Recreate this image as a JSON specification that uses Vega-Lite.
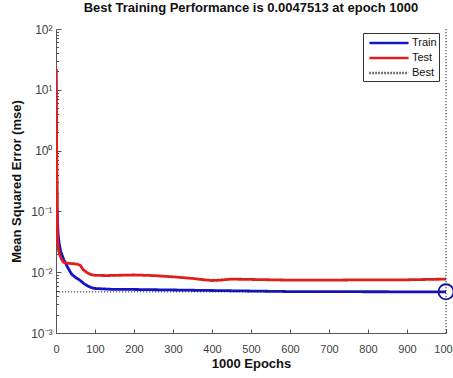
{
  "$schema": "https://vega.github.io/schema/vega-lite/v6.json",
  "width": 390,
  "height": 304,
  "autosize": {"type": "none"},
  "padding": {"left": 56, "top": 29, "right": 7, "bottom": 45},
  "background": "white",
  "config": {
    "view": {"stroke": null},
    "font": "Liberation Sans",
    "axis": {"grid": false, "domainColor": "#555555", "tickColor": "#555555", "labelColor": "#404040", "labelFont": "Liberation Sans", "labelFontSize": 11, "titleFont": "Liberation Sans", "titleFontWeight": "bold", "titleFontSize": 13, "titleColor": "#111111"}
  },
  "title": {"text": "Best Training Performance is 0.0047513 at epoch 1000", "font": "Liberation Sans", "fontSize": 13, "fontWeight": "bold", "color": "#111111", "offset": 8, "anchor": "middle"},
  "datasets": {
    "perf": [
      {"epoch": 0, "mse": 22, "series": "Train"},
      {"epoch": 1, "mse": 3, "series": "Train"},
      {"epoch": 2, "mse": 0.4, "series": "Train"},
      {"epoch": 3, "mse": 0.1, "series": "Train"},
      {"epoch": 5, "mse": 0.045, "series": "Train"},
      {"epoch": 8, "mse": 0.03, "series": "Train"},
      {"epoch": 12, "mse": 0.022, "series": "Train"},
      {"epoch": 20, "mse": 0.016, "series": "Train"},
      {"epoch": 30, "mse": 0.012, "series": "Train"},
      {"epoch": 40, "mse": 0.0093, "series": "Train"},
      {"epoch": 50, "mse": 0.0082, "series": "Train"},
      {"epoch": 60, "mse": 0.0075, "series": "Train"},
      {"epoch": 70, "mse": 0.0066, "series": "Train"},
      {"epoch": 80, "mse": 0.006, "series": "Train"},
      {"epoch": 90, "mse": 0.0056, "series": "Train"},
      {"epoch": 100, "mse": 0.0054, "series": "Train"},
      {"epoch": 150, "mse": 0.0052, "series": "Train"},
      {"epoch": 200, "mse": 0.0052, "series": "Train"},
      {"epoch": 300, "mse": 0.0051, "series": "Train"},
      {"epoch": 400, "mse": 0.005, "series": "Train"},
      {"epoch": 500, "mse": 0.0049, "series": "Train"},
      {"epoch": 600, "mse": 0.0048, "series": "Train"},
      {"epoch": 700, "mse": 0.0048, "series": "Train"},
      {"epoch": 800, "mse": 0.00477, "series": "Train"},
      {"epoch": 900, "mse": 0.00476, "series": "Train"},
      {"epoch": 1000, "mse": 0.0047513, "series": "Train"},
      {"epoch": 0, "mse": 22, "series": "Test"},
      {"epoch": 1, "mse": 5, "series": "Test"},
      {"epoch": 2, "mse": 0.5, "series": "Test"},
      {"epoch": 3, "mse": 0.08, "series": "Test"},
      {"epoch": 4, "mse": 0.035, "series": "Test"},
      {"epoch": 6, "mse": 0.024, "series": "Test"},
      {"epoch": 10, "mse": 0.019, "series": "Test"},
      {"epoch": 15, "mse": 0.016, "series": "Test"},
      {"epoch": 20, "mse": 0.0145, "series": "Test"},
      {"epoch": 30, "mse": 0.014, "series": "Test"},
      {"epoch": 45, "mse": 0.0138, "series": "Test"},
      {"epoch": 55, "mse": 0.0135, "series": "Test"},
      {"epoch": 62, "mse": 0.013, "series": "Test"},
      {"epoch": 70, "mse": 0.011, "series": "Test"},
      {"epoch": 80, "mse": 0.0098, "series": "Test"},
      {"epoch": 90, "mse": 0.0091, "series": "Test"},
      {"epoch": 100, "mse": 0.0089, "series": "Test"},
      {"epoch": 130, "mse": 0.0088, "series": "Test"},
      {"epoch": 160, "mse": 0.0089, "series": "Test"},
      {"epoch": 200, "mse": 0.009, "series": "Test"},
      {"epoch": 250, "mse": 0.0088, "series": "Test"},
      {"epoch": 300, "mse": 0.0084, "series": "Test"},
      {"epoch": 350, "mse": 0.0079, "series": "Test"},
      {"epoch": 380, "mse": 0.0075, "series": "Test"},
      {"epoch": 400, "mse": 0.0073, "series": "Test"},
      {"epoch": 420, "mse": 0.0074, "series": "Test"},
      {"epoch": 450, "mse": 0.0077, "series": "Test"},
      {"epoch": 500, "mse": 0.0076, "series": "Test"},
      {"epoch": 600, "mse": 0.0074, "series": "Test"},
      {"epoch": 700, "mse": 0.0074, "series": "Test"},
      {"epoch": 800, "mse": 0.0075, "series": "Test"},
      {"epoch": 900, "mse": 0.0075, "series": "Test"},
      {"epoch": 1000, "mse": 0.0077, "series": "Test"},
      {"epoch": 0, "mse": 0.0047513, "series": "Best"},
      {"epoch": 1000, "mse": 0.0047513, "series": "Best"}
    ],
    "bestpt": [{"epoch": 1000, "mse": 0.0047513}]
  },
  "encoding": {
    "x": {"field": "epoch", "type": "quantitative", "scale": {"domain": [0, 1000], "nice": false},
      "axis": {"title": "1000 Epochs", "values": [0,100,200,300,400,500,600,700,800,900,1000], "format": "d", "tickSize": -4, "labelPadding": 14, "titlePadding": 3, "labelFlush": false, "labelOverlap": false, "labelBound": false}},
    "y": {"field": "mse", "type": "quantitative", "scale": {"type": "log", "domain": [0.001, 100], "nice": false},
      "axis": {"title": "Mean Squared Error  (mse)", "titlePadding": 7,
        "values": [0.001,0.002,0.003,0.004,0.005,0.006,0.007,0.008,0.009,0.01,0.02,0.03,0.04,0.05,0.06,0.07,0.08,0.09,0.1,0.2,0.3,0.4,0.5,0.6,0.7,0.8,0.9,1,2,3,4,5,6,7,8,9,10,20,30,40,50,60,70,80,90,100],
        "labelExpr": "datum.value == 100 ? '10²' : datum.value == 10 ? '10¹' : datum.value == 1 ? '10⁰' : datum.value == 0.1 ? '10⁻¹' : datum.value == 0.01 ? '10⁻²' : datum.value == 0.001 ? '10⁻³' : ''",
        "tickSize": {"condition": {"test": "indexof([0.001,0.01,0.1,1,10,100], datum.value) >= 0", "value": -5}, "value": -2.5},
        "labelPadding": 9, "labelFontSize": 12, "labelOverlap": false, "labelFlush": false}}
  },
  "layer": [
    {
      "data": {"name": "perf"},
      "transform": [{"filter": "datum.series === 'Train'"}],
      "mark": {"type": "line", "strokeWidth": 2.8, "clip": true},
      "encoding": {
        "color": {"field": "series", "type": "nominal", "scale": {"domain": ["Train", "Test", "Best"], "range": ["#1414c8", "#e01e1e", "#222222"]},
          "legend": {"title": null, "orient": "none", "legendX": 307, "legendY": 4, "strokeColor": "#333333", "fillColor": "white", "padding": 2, "labelFontSize": 11, "labelColor": "#111111", "labelFont": "Liberation Sans", "symbolType": "M-3,0H3", "symbolSize": 170, "symbolStrokeWidth": 2.6, "symbolOffset": 16, "rowPadding": 1, "labelOffset": 15, "cornerRadius": 0}},
        "strokeDash": {"field": "series", "type": "nominal", "scale": {"domain": ["Train", "Test", "Best"], "range": [[1, 0], [1, 0], [1.2, 1.8]]}, "legend": null}
      }
    },
    {
      "data": {"name": "perf"},
      "transform": [{"filter": "datum.series === 'Test'"}],
      "mark": {"type": "line", "strokeWidth": 2.8, "clip": true},
      "encoding": {
        "color": {"field": "series", "type": "nominal"},
        "strokeDash": {"field": "series", "type": "nominal"}
      }
    },
    {
      "data": {"name": "perf"},
      "transform": [{"filter": "datum.series === 'Best'"}],
      "mark": {"type": "line", "strokeWidth": 1},
      "encoding": {
        "color": {"field": "series", "type": "nominal"},
        "strokeDash": {"field": "series", "type": "nominal"}
      }
    },
    {
      "data": {"name": "bestpt"},
      "mark": {"type": "rule", "color": "#222222", "strokeWidth": 1, "strokeDash": [1.2, 1.8]},
      "encoding": {"y": null}
    },
    {
      "data": {"name": "bestpt"},
      "mark": {"type": "point", "shape": "circle", "filled": false, "size": 230, "strokeWidth": 1.8, "color": "#1414a0", "opacity": 1},
      "encoding": {}
    }
  ]
}
